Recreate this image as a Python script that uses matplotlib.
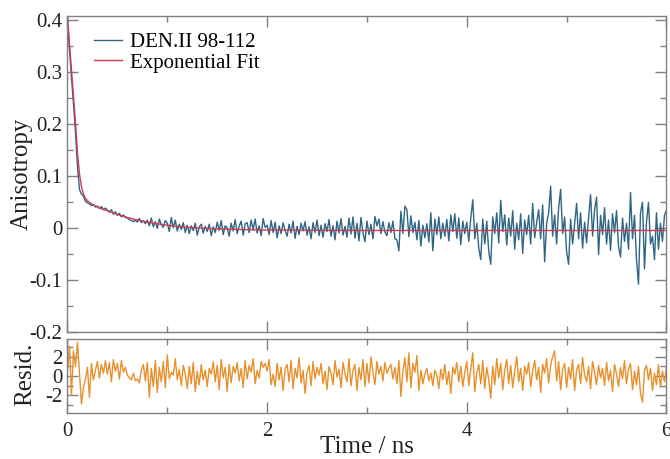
import matplotlib
matplotlib.use('Agg')
import matplotlib.pyplot as plt
from matplotlib.ticker import MultipleLocator

plt.rcParams['font.family'] = ['Liberation Serif', 'DejaVu Serif']

# time axis: one point every 0.02 ns from 0 to 6 ns
dt = 0.02
n_pts = 301
tiempo = [round(i * dt, 2) for i in range(n_pts)]

# anisotropy data (10 points per 0.2 ns)
anisotropia = [
    0.405, 0.345, 0.29, 0.24, 0.185, 0.12, 0.075, 0.066, 0.062, 0.052,
    0.049, 0.047, 0.044, 0.046, 0.041, 0.043, 0.038, 0.042, 0.036, 0.039,
    0.035, 0.031, 0.036, 0.027, 0.032, 0.025, 0.029, 0.022, 0.026, 0.021,
    0.020, 0.017, 0.015, 0.013, 0.016, 0.012, 0.019, 0.011, 0.015, 0.009,
    0.016, 0.005, 0.020, 0.003, 0.013, 0.000, 0.018, 0.007, 0.002, 0.015,
    0.010, -0.006, 0.021, 0.001, 0.016, -0.005, 0.008, -0.002, 0.011, -0.008,
    0.006, -0.010, 0.005, -0.004, 0.010, -0.013, 0.003, 0.008, -0.009, 0.004,
    -0.006, 0.008, -0.014, 0.003, -0.008, 0.012, -0.004, 0.015, -0.012, 0.005,
    0.001, -0.015, 0.010, -0.005, 0.017, -0.010, 0.004, 0.014, -0.013, 0.009,
    0.011, -0.008, 0.016, -0.003, 0.018, -0.009, 0.005, -0.014, 0.019, 0.002,
    0.006, -0.012, 0.015, -0.008, 0.012, -0.018, 0.005, -0.010, 0.011, -0.004,
    -0.015, 0.008, -0.009, 0.014, -0.019, 0.004, -0.012, 0.010, -0.005, 0.013,
    -0.013, 0.003, -0.020, 0.011, -0.008, 0.016, -0.014, 0.006, -0.017, 0.009,
    -0.006, 0.017, -0.015, 0.005, -0.022, 0.014, -0.009, 0.019, -0.013, 0.004,
    -0.017, 0.020, -0.011, 0.022, -0.019, 0.010, -0.024, 0.021, -0.008, -0.026,
    0.014, -0.012, 0.008, -0.020, 0.023, 0.005, 0.018, -0.010, 0.013, -0.007,
    -0.014, 0.011, -0.008, 0.014, -0.020, -0.022, -0.043, 0.033, -0.010, 0.043,
    0.036, -0.016, 0.024, -0.008, 0.012, -0.022, 0.015, -0.034, 0.006, -0.018,
    0.009, -0.026, 0.030, -0.043, 0.018, -0.012, 0.022, -0.020, 0.010, -0.015,
    0.017, -0.024, 0.026, -0.006, 0.028, -0.019, 0.020, -0.031, 0.014, -0.010,
    0.012, -0.025, 0.020, 0.055, -0.020, 0.010, -0.038, -0.060, 0.018, -0.030,
    0.014, -0.045, -0.069, 0.022, -0.010, 0.030, -0.028, 0.054, -0.006, 0.026,
    -0.032, 0.020, -0.015, 0.034, -0.040, 0.010, -0.022, 0.028, -0.048, 0.016,
    -0.012, 0.025, -0.030, 0.048, -0.018, 0.012, 0.036, -0.020, 0.045, -0.064,
    0.010, 0.030, 0.081, -0.015, 0.026, -0.030, 0.040, 0.075, -0.010, 0.022,
    -0.045, -0.069, 0.018, -0.030, 0.010, 0.048, -0.020, 0.030, -0.038, 0.012,
    -0.028, 0.020, 0.065, -0.015, 0.036, 0.060, -0.050, 0.025, -0.012, 0.040,
    -0.030, 0.016, -0.042, 0.028, -0.008, 0.034, -0.035, -0.055, 0.020, -0.025,
    0.010, -0.040, 0.069, -0.020, 0.025, -0.060, -0.107, 0.030, 0.050, -0.078,
    0.012, 0.050, -0.030, -0.015, -0.060, 0.030, -0.040, 0.010, -0.025, 0.025,
    0.035,
]

# exponential fit curve, read at a few times
tiempo_ajuste = [0, 0.02, 0.04, 0.06, 0.08, 0.10, 0.12, 0.14, 0.16, 0.18,
                 0.2, 0.25, 0.3, 0.35, 0.4, 0.5, 0.6, 0.7, 0.8, 0.9, 1.0,
                 1.2, 1.4, 1.6, 1.8, 2.0, 2.5, 3.0, 4.0, 5.0, 6.0]
ajuste = [0.41, 0.355, 0.305, 0.255, 0.205, 0.145, 0.105, 0.080, 0.066, 0.058,
          0.053, 0.046, 0.041, 0.037, 0.034, 0.027, 0.021, 0.016, 0.012, 0.009, 0.006,
          0.002, 0.000, -0.0015, -0.0025, -0.003, -0.0037, -0.004, -0.004, -0.004, -0.004]

# normalised residuals
residuos = [
    0.5, 3.1, -2.0, 2.6, 1.0, 3.5, 0.4, -2.9, -1.2, -0.3,
    0.9, -2.2, 1.3, -0.4, 0.6, 1.5, -0.2, 1.2, 0.3, 1.6,
    0.2, 1.4, -0.6, 1.7, 0.5, 1.3, -0.3, 1.6, 0.4, 0.9,
    0.1, -0.2, -0.4, 0.3, -0.5, -0.3, -0.7, 0.6, 1.2, -0.5,
    1.4, -2.2, 0.8, -1.1, 1.6, -1.7, 0.9, -0.6, 1.5, -1.2,
    2.2, -0.3, 0.4, 0.1, 1.8, -0.4, 0.7, -1.0, 1.1, 0.2,
    -1.3, 1.0, -0.8, 1.4, -1.6, 0.5, -0.9, 1.2, -0.4, 0.6,
    -1.1, 0.8, 0.2, 1.5, -0.6, 1.1, -1.4, 1.7, -0.2, 0.9,
    -1.6, 1.2, -0.7, 1.0, 0.3, 1.4, -0.5, 0.8, -1.2, 1.6,
    -0.3, 1.1, 0.4, 1.8, -0.8, 0.6, -0.2, 1.5, 0.9, 1.3,
    0.5, 1.7, -0.9, 0.2, -1.1, 1.3, -0.4, 0.9, -1.5, 0.7,
    1.2, -0.6, 1.6, -1.3, 0.8, -0.2, 1.9, -0.7, 0.6, -1.8,
    0.4, 1.1, -1.0, 1.5, -0.3, 0.9, 0.1, 1.3, -0.8, 0.5,
    -1.4, 1.0, 0.3, -0.9, 1.6, -0.1, 0.7, -1.2, 1.4, 0.2,
    -0.6, 1.8, -1.0, 0.6, 1.2, -1.5, 0.9, -0.4, 1.7, -1.1,
    1.3, -0.7, 2.0, 0.4, -0.9, 1.5, 0.2, 1.0, -0.5, 1.4,
    0.3, 0.8, 1.2, -0.3, 0.9, -0.8, 1.6, -2.1, 0.5, 1.9,
    -0.6, 2.4, -1.2, 1.3, 0.4, 2.1, -1.5, 0.6, -0.8, 0.2,
    0.8, -0.5, 0.3, -1.0, 0.6, 0.1, -1.3, 0.7, -0.4, 1.2,
    -0.9, 0.5, -1.8, 0.9, 0.2, 1.4, -0.6, 1.0, -1.1, 0.4,
    1.5, -1.0, 0.7, 2.4, -1.6, 0.3, 1.2, -0.8, 1.6, -1.3,
    0.9, -0.4, -2.3, 1.0, -0.9, 1.8, -0.2, 1.3, -1.4, 0.6,
    1.7, -0.8, 1.1, -1.2, 0.5, 2.0, -0.6, 0.8, -1.5, 1.0,
    0.2, 1.4, -1.1, 0.6, 1.6, -0.4, 0.9, -1.7, 1.2, 0.3,
    1.8, -0.7, 1.1, 2.0, 2.6, -0.5, 1.5, -1.4, 0.7, 1.3,
    -1.2, 0.9, -0.3, 1.7, -1.5, 0.6, 1.2, -0.8, 1.9, 0.1,
    -0.6, 1.0, -1.3, 1.5, 0.4, -0.9, 1.1, -0.2, 0.8, -1.0,
    1.4, -0.5, 0.6, -1.6, 1.2, 0.2, -1.1, 0.9, -0.3, 1.6,
    -0.8, 0.7, 1.3, -1.4, 0.5, -0.9, 1.0, -1.8, -2.7, 0.6,
    1.1, -0.4, 0.8, -1.5, 0.3, -0.9, 1.2, -1.2, 0.5, -0.6,
    0.9,
]

color_datos = '#2f6685'
color_ajuste = '#d23a4e'
color_resid = '#e8902c'
gris = '#808080'

fig = plt.figure(figsize=(6.7, 4.59), dpi=100)
ax1 = fig.add_axes([0.1007, 0.2756, 0.894, 0.6895])
ax2 = fig.add_axes([0.1007, 0.0996, 0.894, 0.1612])

ax1.plot(tiempo, anisotropia, color=color_datos, lw=1.0, label='DEN.II 98-112')
ax1.plot(tiempo_ajuste, ajuste, color=color_ajuste, lw=1.0, label='Exponential Fit')
ax2.plot(tiempo, residuos, color=color_resid, lw=1.0)

ax1.set_xlim(0, 6)
ax1.set_ylim(-0.2, 0.408)
ax2.set_xlim(0, 6)
ax2.set_ylim(-3.85, 3.8)

for ax in (ax1, ax2):
    ax.xaxis.set_major_locator(MultipleLocator(2))
    ax.xaxis.set_minor_locator(MultipleLocator(1))
    ax.tick_params(which='both', direction='in', top=True, right=True,
                   color=gris, width=1.0, labelsize=15, labelcolor='#222222')
    ax.tick_params(which='major', length=8)
    ax.tick_params(which='minor', length=4.5)
    for s in ax.spines.values():
        s.set_color(gris)
        s.set_linewidth(1.0)

ax1.yaxis.set_major_locator(MultipleLocator(0.1))
ax1.yaxis.set_minor_locator(MultipleLocator(0.05))
ax1.set_yticks([-0.2, -0.1, 0, 0.1, 0.2, 0.3, 0.4])
ax1.set_yticklabels(['-0.2', '-0.1', '0', '0.1', '0.2', '0.3', '0.4'])
ax1.tick_params(labelbottom=False)

ax2.set_yticks([-2, 0, 2])
ax2.set_yticklabels(['-2', '0', '2'])
ax2.yaxis.set_minor_locator(MultipleLocator(1))
ax2.set_xticks([0, 2, 4, 6])
ax2.set_xticklabels(['0', '2', '4', '6'])
ax2.tick_params(axis='x', which='major', pad=6)

ax1.set_ylabel('Anisotropy', fontsize=18, color='#222222')
ax1.yaxis.set_label_coords(-0.058, 0.5)
ax2.set_ylabel('Resid.', fontsize=18, color='#222222')
ax2.yaxis.set_label_coords(-0.052, 0.53)
ax2.set_xlabel('Time / ns', fontsize=18, color='#222222', labelpad=-3)

ax1.legend(loc='upper left', bbox_to_anchor=(0.045, 0.948), frameon=False,
           fontsize=15, handlelength=1.3, handletextpad=0.4,
           labelspacing=0.05, borderpad=0, borderaxespad=0)

fig.savefig('out.png', dpi=100)
